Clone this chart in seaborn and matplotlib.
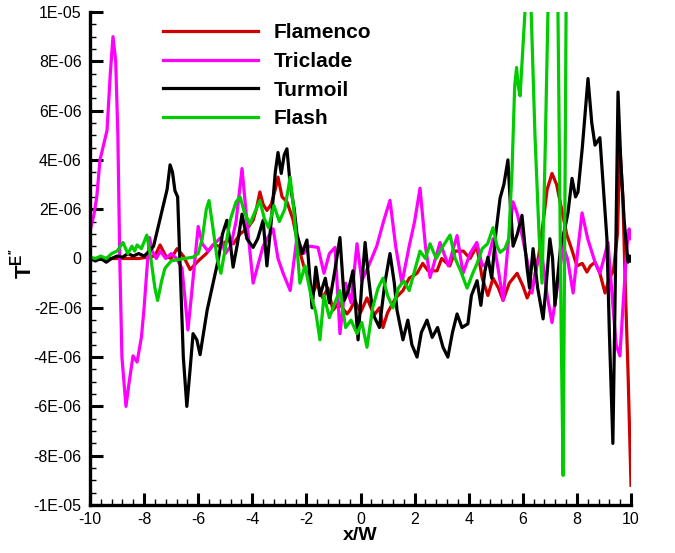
import numpy as np
import pandas as pd
import matplotlib
matplotlib.use("Agg")
import matplotlib.pyplot as plt
from matplotlib.ticker import MultipleLocator
import seaborn as sns

# ---------------- data (y values in units of 1E-06) ----------------
series_names = ["Flamenco", "Triclade", "Turmoil", "Flash"]
series_colors = ["#d00000", "#ff00ff", "#000000", "#00cc00"]

flamenco = [(-10, 0), (-8.2, 0), (-7.9, 0.05), (-7.6, 0.1), (-7.41, 0.55), (-7.2, 0.1), (-7.0, 0.0),
            (-6.78, 0.4), (-6.55, 0.1), (-6.3, -0.45), (-6.0, -0.1), (-5.7, 0.2), (-5.45, 0.55),
            (-5.2, 0.5), (-4.9, 0.75), (-4.7, 0.6), (-4.45, 1.0), (-4.2, 1.2), (-3.97, 1.55),
            (-3.85, 2.0), (-3.72, 2.7), (-3.6, 2.2), (-3.46, 1.95), (-3.3, 2.2), (-3.15, 2.8),
            (-3.05, 3.3), (-2.9, 2.5), (-2.72, 2.3), (-2.5, 1.6), (-2.3, 0.5), (-2.1, -0.3),
            (-1.9, -0.8), (-1.76, -1.4), (-1.6, -1.0), (-1.4, -1.6), (-1.2, -1.2), (-1.02, -2.1),
            (-0.8, -1.8), (-0.5, -2.25), (-0.39, -2.1), (-0.2, -1.7), (0.0, -2.2), (0.24, -1.6),
            (0.5, -2.3), (0.7, -2.0), (0.83, -2.8), (1.0, -2.2), (1.3, -1.6), (1.57, -1.3),
            (1.8, -0.8), (2.09, -0.6), (2.3, -0.2), (2.5, -0.5), (2.83, -0.5), (3.0, 0.0),
            (3.3, -0.3), (3.5, 0.3), (3.8, 0.3), (4.05, 0.0), (4.3, 0.5), (4.5, -0.8), (4.71, -1.5),
            (4.9, -0.8), (5.1, -1.2), (5.27, -1.7), (5.5, -1.0), (5.79, -0.6), (6.0, -1.1),
            (6.16, -1.6), (6.4, -1.0), (6.6, 0.2), (6.75, 1.45), (6.9, 2.8), (7.08, 3.45),
            (7.25, 3.0), (7.38, 2.3), (7.63, 0.95), (7.8, 0.4), (8.0, -0.3), (8.2, -0.2),
            (8.37, -0.55), (8.5, -0.3), (8.67, -0.15), (8.85, -0.6), (9.04, -1.4), (9.2, -0.8),
            (9.35, -0.5), (9.5, 1.0), (9.59, 4.5), (9.7, 2.45), (9.8, -1.5), (9.89, -4.6), (10.0, -9.2)]

triclade = [(-10, 1.1), (-9.85, 1.8), (-9.75, 2.5), (-9.63, 4.0), (-9.5, 4.6), (-9.37, 5.2),
            (-9.25, 7.5), (-9.15, 9.0), (-9.05, 8.0), (-8.97, 5.0), (-8.9, 0.0), (-8.82, -4.0),
            (-8.67, -6.0), (-8.55, -5.0), (-8.41, -3.95), (-8.26, -4.2), (-8.1, -3.2), (-8.0, -2.0),
            (-7.9, -0.5), (-7.8, 0.85), (-7.7, 0.3), (-7.55, 0.0), (-7.4, 0.3), (-7.2, 0.0),
            (-7.0, 0.2), (-6.8, 0.0), (-6.6, -0.4), (-6.5, -1.5), (-6.38, -2.9), (-6.25, -1.5),
            (-6.1, 0.2), (-6.0, 1.3), (-5.85, 0.6), (-5.64, 0.3), (-5.4, 0.6), (-5.16, 0.85),
            (-5.0, 0.2), (-4.8, 0.5), (-4.6, 1.5), (-4.38, 3.65), (-4.2, 1.5), (-3.97, -1.0),
            (-3.8, -0.3), (-3.6, 0.5), (-3.4, 0.9), (-3.23, 1.2), (-3.05, 0.0), (-2.86, -0.6),
            (-2.6, -1.3), (-2.35, 0.85), (-2.1, 0.2), (-1.9, 0.5), (-1.57, 0.45), (-1.35, -0.6),
            (-1.15, 0.2), (-0.94, 0.45), (-0.76, -3.05), (-0.55, -1.0), (-0.35, -1.8), (-0.13, 0.6),
            (0.05, -0.9), (0.3, -0.3), (0.6, 0.5), (0.85, 1.5), (1.09, 2.36), (1.3, 0.5),
            (1.53, -1.0), (1.8, 0.5), (2.0, 1.5), (2.2, 2.85), (2.4, 0.5), (2.57, -0.77),
            (2.94, 0.65), (3.25, -0.3), (3.57, 0.93), (3.79, -0.6), (4.05, 0.2), (4.3, 0.65),
            (4.5, -0.3), (4.68, -0.2), (4.9, 0.8), (5.1, -0.5), (5.27, -1.7), (5.45, 0.5),
            (5.64, 2.3), (5.8, 1.8), (6.0, 0.8), (6.2, -0.3), (6.34, -1.4), (6.5, -0.3),
            (6.7, 0.2), (6.9, -1.5), (7.08, -2.6), (7.3, -1.0), (7.49, 0.5), (7.65, 0.0),
            (7.86, -1.4), (8.0, 0.0), (8.19, 1.85), (8.4, 0.8), (8.67, -0.15), (8.85, -0.6),
            (9.0, 0.0), (9.15, 0.65), (9.3, -1.5), (9.45, -3.5), (9.59, -3.95), (9.7, -2.0),
            (9.85, 0.5), (9.93, 1.2), (10.0, 0.8)]

turmoil = [(-10, 0.0), (-9.8, -0.1), (-9.6, 0.0), (-9.4, -0.15), (-9.2, 0.0), (-9.0, 0.1),
           (-8.8, 0.05), (-8.6, 0.2), (-8.4, 0.1), (-8.2, 0.2), (-8.0, 0.1), (-7.8, 0.3),
           (-7.65, 0.5), (-7.52, 1.1), (-7.3, 2.1), (-7.15, 2.8), (-7.04, 3.8), (-6.95, 3.5),
           (-6.86, 2.75), (-6.76, 2.5), (-6.68, 0.0), (-6.55, -4.0), (-6.42, -6.0), (-6.3, -4.5),
           (-6.19, -3.05), (-6.05, -3.3), (-5.93, -3.9), (-5.8, -3.0), (-5.67, -2.1), (-5.45, -1.0),
           (-5.25, 0.0), (-5.1, 1.0), (-4.94, 1.55), (-4.8, 0.5), (-4.71, -0.35), (-4.55, 0.6),
           (-4.38, 1.8), (-4.2, 0.8), (-3.97, 0.45), (-3.8, 0.8), (-3.6, 1.55), (-3.46, -0.3),
           (-3.3, 1.5), (-3.15, 3.5), (-3.05, 4.3), (-2.93, 3.45), (-2.82, 4.2), (-2.72, 4.45),
           (-2.6, 3.0), (-2.45, 2.0), (-2.35, 1.0), (-2.16, 0.2), (-1.98, 0.75), (-1.79, -2.0),
           (-1.65, -0.35), (-1.5, -1.5), (-1.3, -0.8), (-1.15, -1.8), (-0.95, -0.5), (-0.76, 0.85),
           (-0.6, -1.7), (-0.45, -1.3), (-0.28, -0.5), (-0.09, -3.3), (0.05, -1.0), (0.17, 0.65),
           (0.3, -0.8), (0.46, -2.25), (0.7, -2.8), (0.9, -1.0), (1.09, 0.2), (1.25, -1.0),
           (1.35, -2.1), (1.57, -3.3), (1.75, -2.5), (1.9, -3.5), (2.09, -4.0), (2.25, -3.0),
           (2.46, -2.5), (2.65, -3.2), (2.85, -2.8), (3.05, -3.6), (3.23, -4.0), (3.4, -3.0),
           (3.57, -2.25), (3.75, -2.8), (3.97, -2.65), (4.1, -1.5), (4.31, -0.9), (4.45, -1.9),
           (4.6, -0.5), (4.71, 0.05), (4.85, -0.8), (5.0, 1.0), (5.16, 2.45), (5.3, 3.0),
           (5.45, 4.0), (5.55, 2.0), (5.64, 0.5), (5.8, 1.0), (5.97, 1.75), (6.08, 0.5),
           (6.16, -0.4), (6.25, -1.2), (6.38, 0.4), (6.55, -1.2), (6.75, -2.45), (6.87, -1.0),
           (7.0, 0.8), (7.1, 0.0), (7.19, -1.9), (7.4, 0.5), (7.55, 1.2), (7.67, 1.85),
           (7.82, 3.25), (7.95, 2.5), (8.04, 2.7), (8.2, 4.5), (8.41, 7.3), (8.55, 5.5),
           (8.67, 4.6), (8.85, 4.9), (9.0, 2.5), (9.11, 0.8), (9.2, -3.0), (9.33, -7.5),
           (9.42, -1.0), (9.52, 6.75), (9.62, 4.0), (9.75, 1.5), (9.89, -0.15), (9.95, 0.1),
           (10.0, -0.1)]

flash = [(-10, 0.05), (-9.8, 0.0), (-9.6, 0.1), (-9.4, 0.0), (-9.2, 0.2), (-9.0, 0.3),
         (-8.78, 0.65), (-8.6, 0.2), (-8.45, 0.5), (-8.35, 0.3), (-8.26, 0.55), (-8.1, 0.4),
         (-7.9, 0.95), (-7.75, 0.0), (-7.6, -1.2), (-7.5, -1.7), (-7.35, -0.9), (-7.23, -0.4),
         (-7.0, -0.1), (-6.78, -0.05), (-6.5, 0.0), (-6.2, 0.05), (-6.0, 0.2), (-5.85, 0.8),
         (-5.7, 2.0), (-5.6, 2.35), (-5.45, 1.2), (-5.3, 0.0), (-5.16, -0.6), (-5.0, 0.4),
         (-4.82, 1.55), (-4.6, 2.3), (-4.45, 2.5), (-4.3, 1.9), (-4.09, 1.4), (-3.9, 1.9),
         (-3.72, 2.35), (-3.55, 1.6), (-3.4, 1.25), (-3.2, 2.15), (-3.0, 1.5), (-2.8, 2.0),
         (-2.6, 3.3), (-2.45, 1.8), (-2.24, -1.0), (-2.05, -0.3), (-1.85, -1.4), (-1.65, -2.2),
         (-1.5, -3.3), (-1.35, -1.5), (-1.15, -2.4), (-0.95, -1.8), (-0.76, -1.3), (-0.55, -2.8),
         (-0.35, -2.5), (-0.13, -3.05), (0.05, -2.6), (0.24, -3.6), (0.45, -2.0), (0.65, -1.2),
         (0.83, -0.8), (1.0, -1.5), (1.2, -2.0), (1.4, -1.2), (1.6, -0.9), (1.8, -1.3),
         (2.0, -0.5), (2.2, 0.3), (2.4, 0.0), (2.57, 0.6), (2.8, 0.0), (3.05, 0.5), (3.31, 0.95),
         (3.5, 0.0), (3.7, -0.5), (3.94, -1.2), (4.15, -0.6), (4.31, -0.2), (4.5, 0.4),
         (4.7, 0.6), (4.9, 1.25), (5.05, 0.5), (5.16, 0.25), (5.34, 0.4), (5.48, 0.8),
         (5.6, 3.5), (5.7, 7.0), (5.77, 7.75), (5.83, 7.0), (5.9, 6.6), (6.08, 10.0),
         (6.2, 12.5), (6.31, 10.0), (6.45, 5.0), (6.6, 1.0), (6.71, -1.0), (6.82, 4.0),
         (6.93, 10.0), (7.12, 19.0), (7.3, 10.0), (7.42, -3.0), (7.49, -8.8), (7.55, 1.0),
         (7.6, 10.0), (7.7, 20.0)]

x_ticks = [-10, -8, -6, -4, -2, 0, 2, 4, 6, 8, 10]
x_tick_labels = ["-10", "-8", "-6", "-4", "-2", "0", "2", "4", "6", "8", "10"]
y_ticks = [-1e-5, -8e-6, -6e-6, -4e-6, -2e-6, 0, 2e-6, 4e-6, 6e-6, 8e-6, 1e-5]
y_tick_labels = ["-1E-05", "-8E-06", "-6E-06", "-4E-06", "-2E-06", "0",
                 "2E-06", "4E-06", "6E-06", "8E-06", "1E-05"]

# ---------------- build table ----------------
frames = []
for name, pts in zip(series_names, [flamenco, triclade, turmoil, flash]):
    arr = np.array(pts, dtype=float)
    frames.append(pd.DataFrame({"x": arr[:, 0], "y": arr[:, 1] * 1e-6, "series": name}))
df = pd.concat(frames, ignore_index=True)

plt.rcParams["font.family"] = ["Liberation Sans", "DejaVu Sans"]
plt.rcParams["mathtext.fontset"] = "custom"
plt.rcParams["mathtext.rm"] = "Liberation Sans"
plt.rcParams["mathtext.bf"] = "Liberation Sans:bold"
plt.rcParams["mathtext.it"] = "Liberation Sans:italic"

fig = plt.figure(figsize=(6.75, 5.53), dpi=100)
ax = fig.add_axes([90 / 675, 48 / 553, 541 / 675, 493 / 553])

sns.lineplot(data=df, x="x", y="y", hue="series", hue_order=series_names,
             palette=dict(zip(series_names, series_colors)), estimator=None,
             sort=False, linewidth=2.3, ax=ax)

ax.set_xlim(-10, 10)
ax.set_ylim(-1e-5, 1e-5)
ax.set_xticks(x_ticks)
ax.set_xticklabels(x_tick_labels)
ax.set_yticks(y_ticks)
ax.set_yticklabels(y_tick_labels)
ax.xaxis.set_minor_locator(MultipleLocator(0.4))
ax.yaxis.set_minor_locator(MultipleLocator(5e-7))
ax.tick_params(which="major", direction="in", length=9, width=2.2, labelsize=11.5, pad=5)
ax.tick_params(which="minor", direction="in", length=4.5, width=1.0)
ax.tick_params(axis="y", which="major", pad=6)

for s in ["top", "right"]:
    ax.spines[s].set_visible(False)
for s in ["left", "bottom"]:
    ax.spines[s].set_linewidth(2.4)

ax.set_xlabel("x/W", fontsize=14, fontweight="bold")
ax.set_ylabel(r"$\mathbf{T^{E''}}$", fontsize=16)
ax.xaxis.set_label_coords(0.5, -0.045)
ax.yaxis.set_label_coords(-0.10, 0.49)

handles, labels = ax.get_legend_handles_labels()
ax.legend(handles, labels, loc="upper left", bbox_to_anchor=(0.111, 1.003), frameon=False,
          prop={"weight": "bold", "size": 15}, handlelength=4.57, handletextpad=0.77,
          labelspacing=0.47, borderaxespad=0.2)

fig.savefig("out.png", dpi=100)
